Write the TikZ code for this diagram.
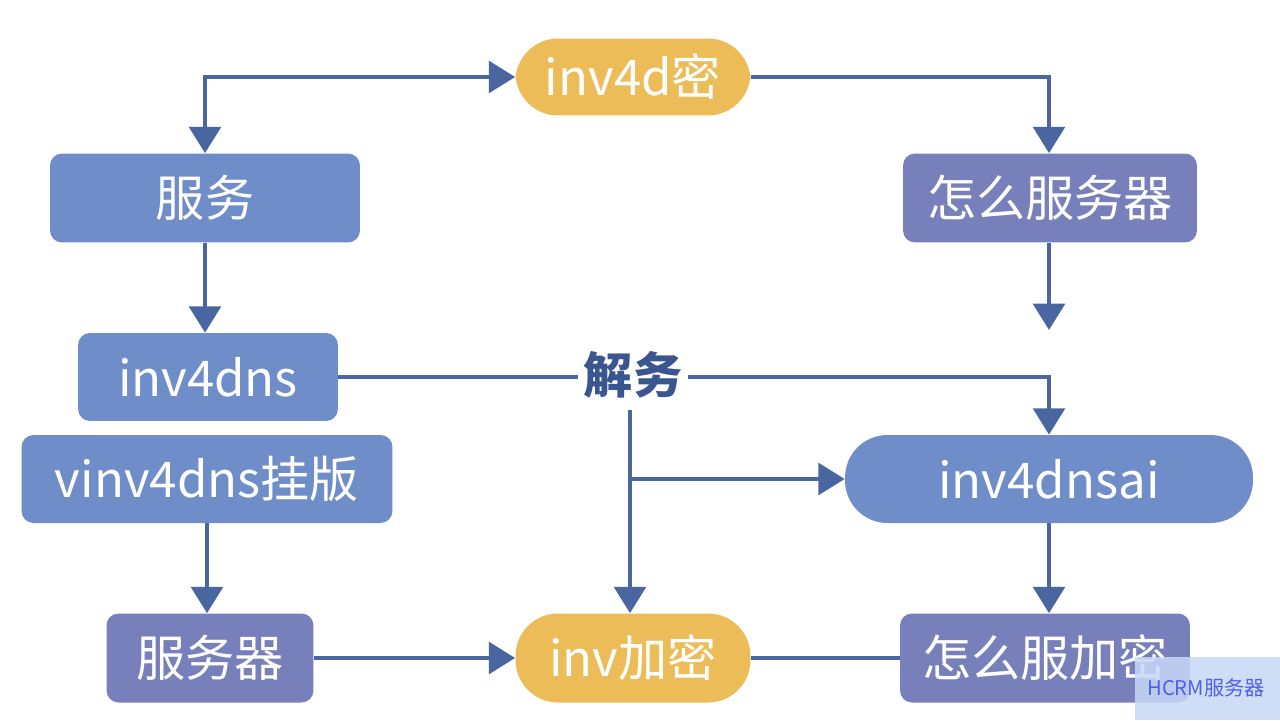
\documentclass[tikz,border=0pt]{standalone}
\usepackage{fontspec}
\setmainfont{Noto Sans CJK SC}
\usetikzlibrary{arrows.meta}

\definecolor{boxblue}{RGB}{111,141,201}
\definecolor{boxpurple}{RGB}{120,128,188}
\definecolor{pillyellow}{RGB}{236,188,88}
\definecolor{linkblue}{RGB}{74,102,160}
\definecolor{labelblue}{RGB}{58,85,144}
\definecolor{markbg}{RGB}{200,216,246}
\definecolor{marktext}{RGB}{80,96,230}

\tikzset{
  flow/.tip = {Triangle[length=15pt,width=18pt]},
  link/.style = {draw=linkblue, line width=2.3pt},
  card/.style = {rounded corners=0.24cm, minimum height=1.78cm, text=white,
                 inner sep=0pt, font=\fontsize{28}{32}\selectfont},
  bluecard/.style = {card, fill=boxblue},
  purplecard/.style = {card, fill=boxpurple},
  pill/.style = {card, rounded corners=0.85cm, fill=pillyellow},
  bluepill/.style = {card, rounded corners=0.85cm, fill=boxblue}
}

\begin{document}
\begin{tikzpicture}[x=0.02cm,y=-0.02cm]
\useasboundingbox [fill=white] (0,0) rectangle (1280,720);

% nodes
\node [pill, minimum width=4.7cm, minimum height=1.54cm] (top) at (633,77) {inv4d密};
\node [bluecard, minimum width=6.2cm] (fuwu) at (205,198) {服务};
\node [purplecard, minimum width=5.88cm] (zenme) at (1050,198) {怎么服务器};
\node [bluecard, minimum width=5.2cm, minimum height=1.76cm] (dns) at (208,377) {inv4dns};
\node [text=labelblue, font=\fontsize{28}{32}\selectfont\bfseries] (jiewu) at (633,375) {解务};
\node [bluecard, minimum width=7.42cm, minimum height=1.76cm] (vdns) at (207,479) {vinv4dns挂版};
\node [bluepill, minimum width=8.16cm, minimum height=1.76cm] (dnsai) at (1049,479) {inv4dnsai};
\node [purplecard, minimum width=4.14cm] (qi) at (210,658) {服务器};
\node [pill, minimum width=4.7cm] (jiami) at (633,658) {inv加密};
\node [purplecard, minimum width=5.8cm] (zmjm) at (1045,658) {怎么服加密};

\coordinate (zdown) at (1049,330);
\coordinate (split) at (630,410);
\coordinate (branch) at (630,479);

% connectors
\draw [link, {flow}-{flow}] (fuwu.north) |- (top.west);
\draw [link, -{flow}] (top.east) -| (zdown |- zenme.north);
\draw [link, -{flow}] (fuwu.south) -- (fuwu.south |- dns.north);
\draw [link, -{flow}] (zdown |- zenme.south) -- (zdown);
\draw [link] (dns.east) -- (dns.east -| jiewu.west);
\draw [link, -{flow}] (jiewu.east |- dns.east) -| (zdown |- dnsai.north);
\draw [link, -{flow}] (split) -- (split |- jiami.north);
\draw [link, -{flow}] (branch) -- (dnsai.west);
\draw [link, -{flow}] (vdns.south) -- (vdns.south |- qi.north);
\draw [link, -{flow}] (qi.east) -- (jiami.west);
\draw [link, -{flow}] (zdown |- dnsai.south) -- (zdown |- zmjm.north);
\draw [link] (jiami.east) -- (zmjm.west);

% watermark
\fill [markbg, opacity=0.85] (1135,657) rectangle (1280,720);
\node [text=marktext, font=\fontsize{11.5}{13}\selectfont] (mark) at (1206,688) {HCRM服务器};
\end{tikzpicture}
\end{document}
